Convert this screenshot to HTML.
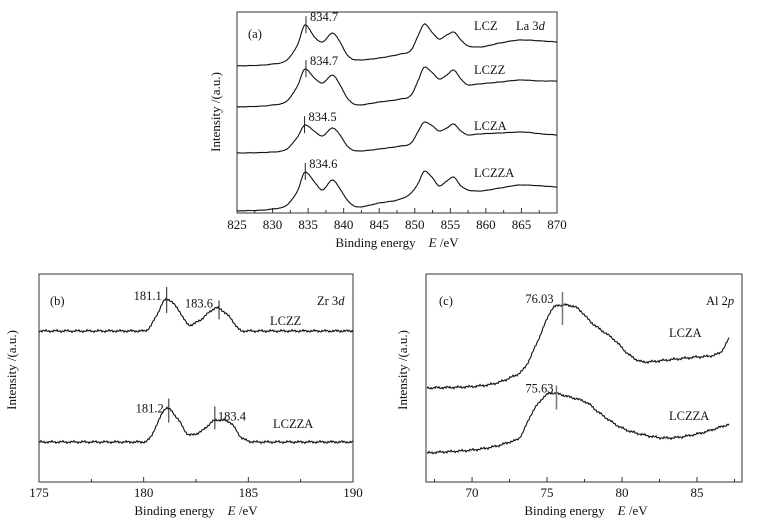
<!DOCTYPE html>
<html><head><meta charset="utf-8"><style>
body{margin:0;background:#fff}
svg{display:block;font-family:"Liberation Serif",serif}
text{fill:#111}
</style></head><body>
<svg id="c" width="769" height="523" viewBox="0 0 769 523"></svg>
<script>
// ---- Panel (a) La 3d data ----
const laEnergy=[825,830,832,833.5,834.6,836,837,838.4,839.5,840.5,842,845,848,849.5,850.5,851.4,852.5,853.5,854.5,855.4,856.5,857.5,859,862,865,868,870];
const laLCZ  =[147,149,153,168,188,175,171,180,171,158,153,155,159,163,178,189,180,174,178,181,173,167,166,170,173,172,171];
const laLCZZ =[106,108,112,127,144,134,130,138,128,115,108,111,114,118,133,146,140,134,138,143,134,128,129,131,133,132,132];
const laLCZA =[60,61,64,76,88,81,77,85,78,67,62,64,67,70,82,91,87,82,85,89,82,78,79,80,81,79,78];
const laLCZZA=[2,4,8,22,41,30,23,33,24,13,6,10,14,20,30,42,35,27,32,36,27,23,22,25,28,27,26];
const laNames=["LCZ","LCZZ","LCZA","LCZZA"];
const laPeaks=["834.7","834.7","834.5","834.6"];
const laPeakE=[834.7,834.7,834.5,834.6];
const laTicks=[825,830,835,840,845,850,855,860,865,870];
// ---- Panel (b) Zr 3d ----
const zrEnergy=[175,178,180,180.3,180.6,181.1,181.6,182.2,182.7,183.5,184.1,184.7,185.5,190];
const zrLCZZ =[151,151,151,155,166,183,174,157,162,174,165,151,151,151];
const zrLCZZA=[40,40,40,44,56,74,64,47,50,62,60,44,40,40];
const zrNames=["LCZZ","LCZZA"];
const zrPeakE=[[181.1,183.6],[181.2,183.4]];
const zrTicks=[175,180,185,190];
// ---- Panel (c) Al 2p ----
const alEnergyA=[67,71,72.5,73.5,74.5,75.3,76,77,78,79.5,80.5,81.5,83,85,86.5,87.2];
const alLCZA=[94,97,104,114,145,172,177,174,159,142,127,120,122,125,129,145];
const alEnergyB=[67,71,72.5,73.2,74,74.8,75.3,76.5,77.7,78.5,80,81.5,83,85,87.2];
const alLCZZA=[29,34,40,45,69,85,89,85,79,69,54,47,44,48,58];
const alNames=["LCZA","LCZZA"];
const alPeakE=[76.03,75.63];
const alPeakLbl=["76.03","75.63"];
const alTicks=[70,75,80,85];

const NS="http://www.w3.org/2000/svg";
const svg=document.getElementById("c");
function mk(tag,attrs,parent){const e=document.createElementNS(NS,tag);for(const k in attrs)e.setAttribute(k,attrs[k]);(parent||svg).appendChild(e);return e;}
function txt(s,x,y,size,extra,parent){const t=mk("text",Object.assign({x:x,y:y,"font-size":size},extra||{}),parent);t.textContent=s;return t;}
function scale(d0,d1,r0,r1){return v=>r0+(v-d0)/(d1-d0)*(r1-r0);}
// monotone cubic interpolation
function interp(xs,ys,x){
  const n=xs.length;
  if(x<=xs[0])return ys[0]; if(x>=xs[n-1])return ys[n-1];
  const d=[],m=[];
  for(let i=0;i<n-1;i++)d.push((ys[i+1]-ys[i])/(xs[i+1]-xs[i]));
  m[0]=d[0];m[n-1]=d[n-2];
  for(let i=1;i<n-1;i++)m[i]=(d[i-1]*d[i]<=0)?0:(d[i-1]+d[i])/2;
  for(let i=0;i<n-1;i++){if(d[i]===0){m[i]=0;m[i+1]=0;}else{const a=m[i]/d[i],b=m[i+1]/d[i],s=a*a+b*b;if(s>9){const t=3/Math.sqrt(s);m[i]=t*a*d[i];m[i+1]=t*b*d[i];}}}
  let i=0;while(x>xs[i+1])i++;
  const h=xs[i+1]-xs[i],t=(x-xs[i])/h;
  const h00=2*t*t*t-3*t*t+1,h10=t*t*t-2*t*t+t,h01=-2*t*t*t+3*t*t,h11=t*t*t-t*t;
  return h00*ys[i]+h10*h*m[i]+h01*ys[i+1]+h11*h*m[i+1];
}
function curve(g,xs,ys,sx,sy,noise,seed){
  let d="";const x0=sx(xs[0]),x1=sx(xs[xs.length-1]);
  let k=0;
  for(let px=x0;px<=x1+0.01;px+=1,k++){
    const e=sx.inv(px);
    const n=noise*(Math.sin(k*2.3+seed)*0.6+Math.sin(k*5.7+seed*2)*0.4);
    d+=(k?"L":"M")+px.toFixed(1)+","+(sy(interp(xs,ys,e))+n).toFixed(1);
  }
  return mk("path",{d:d,fill:"none",stroke:"#111","stroke-width":1.1},g);
}
function frame(name,L,R,T,B,d0,d1,ticks,minorStep,lblY){
  const g=mk("g",{});
  
  
  mk("rect",{x:L,y:T,width:R-L,height:B-T,fill:"none",stroke:"#333","stroke-width":1},g);
  const sx=scale(d0,d1,L,R);sx.inv=scale(L,R,d0,d1);
  for(let v=Math.ceil(d0/minorStep)*minorStep;v<=d1+1e-6;v+=minorStep){
    const major=ticks.some(t=>Math.abs(t-v)<1e-6);
    mk("line",{x1:sx(v),x2:sx(v),y1:B,y2:B-(major?5:3),stroke:"#333"},g);
  }
  ticks.forEach(t=>{const e=txt(String(t),sx(t),lblY,13,{"text-anchor":"middle"},g);
    });
  return {g,sx,sy:v=>B-v};
}
function axisTitles(g,cx,by,yx,cy){
  const t=mk("text",{x:cx,y:by,"font-size":13,"text-anchor":"middle"},g);
  t.innerHTML='Binding energy&#160;&#160;&#160;&#160;<tspan font-style="italic">E</tspan> /eV';
  
  const y=mk("text",{x:0,y:0,"font-size":13,"text-anchor":"middle",transform:`translate(${yx},${cy}) rotate(-90)`},g);
  y.textContent="Intensity /(a.u.)";
  
}
function marker(g,x,y1,y2){const ln=mk("line",{x1:x,x2:x,y1:y1,y2:y2,stroke:"#222"},g);
  }
function label(g,s,x,y,anchor,name){const t=txt(s,x,y,12.5,{"text-anchor":anchor||"start"},g);
  return t;}
// Panel a
(function(){
  const L=237,R=557,T=12,B=213;
  const p=frame("panel-a-la3d",L,R,T,B,825,870,laTicks,2.5,229);
  axisTitles(p.g,397,247,220,112);
  const series=[laLCZ,laLCZZ,laLCZA,laLCZZA];
  series.forEach((s,i)=>{
    const path=curve(p.g,laEnergy,s,p.sx,p.sy,0.3,i*3);
    
    
    const py=p.sy(interp(laEnergy,s,laPeakE[i]));
    marker(p.g,p.sx(laPeakE[i]),py-9,py+8);
    label(p.g,laPeaks[i],p.sx(laPeakE[i])+4,py-4,"start",'peak-label');
    label(p.g,laNames[i],474,py+5,"start",'legend-entry');
  });
  label(p.g,"(a)",248,38,"start",'panel-label');
  const t=mk("text",{x:516,y:30,"font-size":12.5},p.g);t.innerHTML='La 3<tspan font-style="italic">d</tspan>';
  
})();
// Panel b
(function(){
  const L=39,R=353,T=274,B=482;
  const p=frame("panel-b-zr3d",L,R,T,B,175,190,zrTicks,2.5,497);
  axisTitles(p.g,196,515,16,370);
  const off=[[[-12,14,-5,1],[-8,11,-6,-1]],[[-10,14,-5,4],[-14,9,3,0]]];
  [zrLCZZ,zrLCZZA].forEach((s,i)=>{
    const path=curve(p.g,zrEnergy,s,p.sx,p.sy,1.4,i*5+1);
    
    
    zrPeakE[i].forEach((e,j)=>{
      const py=p.sy(interp(zrEnergy,s,e));const o=off[i][j];const x=p.sx(e);
      marker(p.g,x,py+o[0],py+o[1]);
      const anchor=(j==1&&i==1)?"start":"end";
      label(p.g,e.toFixed(1),x+o[2],py+o[3],anchor,'peak-label');
    });
    label(p.g,zrNames[i],i==0?270:273,i==0?325:428,"start",'legend-entry');
  });
  label(p.g,"(b)",50,305,"start",'panel-label');
  const t=mk("text",{x:317,y:305,"font-size":12.5},p.g);t.innerHTML='Zr 3<tspan font-style="italic">d</tspan>';
  
})();
// Panel c
(function(){
  const L=426,R=742,T=274,B=482;
  const p=frame("panel-c-al2p",L,R,T,B,66.93,88,alTicks,2.5,497);
  axisTitles(p.g,586,515,407,370);
  const off=[[-13,20],[-8,16]];
  [[alEnergyA,alLCZA],[alEnergyB,alLCZZA]].forEach((d,i)=>{
    const path=curve(p.g,d[0],d[1],p.sx,p.sy,1.4,i*4+2);
    
    
    const e=alPeakE[i];const py=p.sy(interp(d[0],d[1],e));const x=p.sx(e);
    const ln=mk("line",{x1:x,x2:x,y1:py+off[i][0],y2:py+off[i][1],stroke:"#777","stroke-width":1.5},p.g);
    
    
    label(p.g,alPeakLbl[i],x-(i==0?9:3),py-(i==0?2:1),"end",'peak-label');
    label(p.g,alNames[i],669,i==0?337:420,"start",'legend-entry');
  });
  label(p.g,"(c)",439,305,"start",'panel-label');
  const t=mk("text",{x:706,y:305,"font-size":12.5},p.g);t.innerHTML='Al 2<tspan font-style="italic">p</tspan>';
  
})();
</script>
</body></html>
